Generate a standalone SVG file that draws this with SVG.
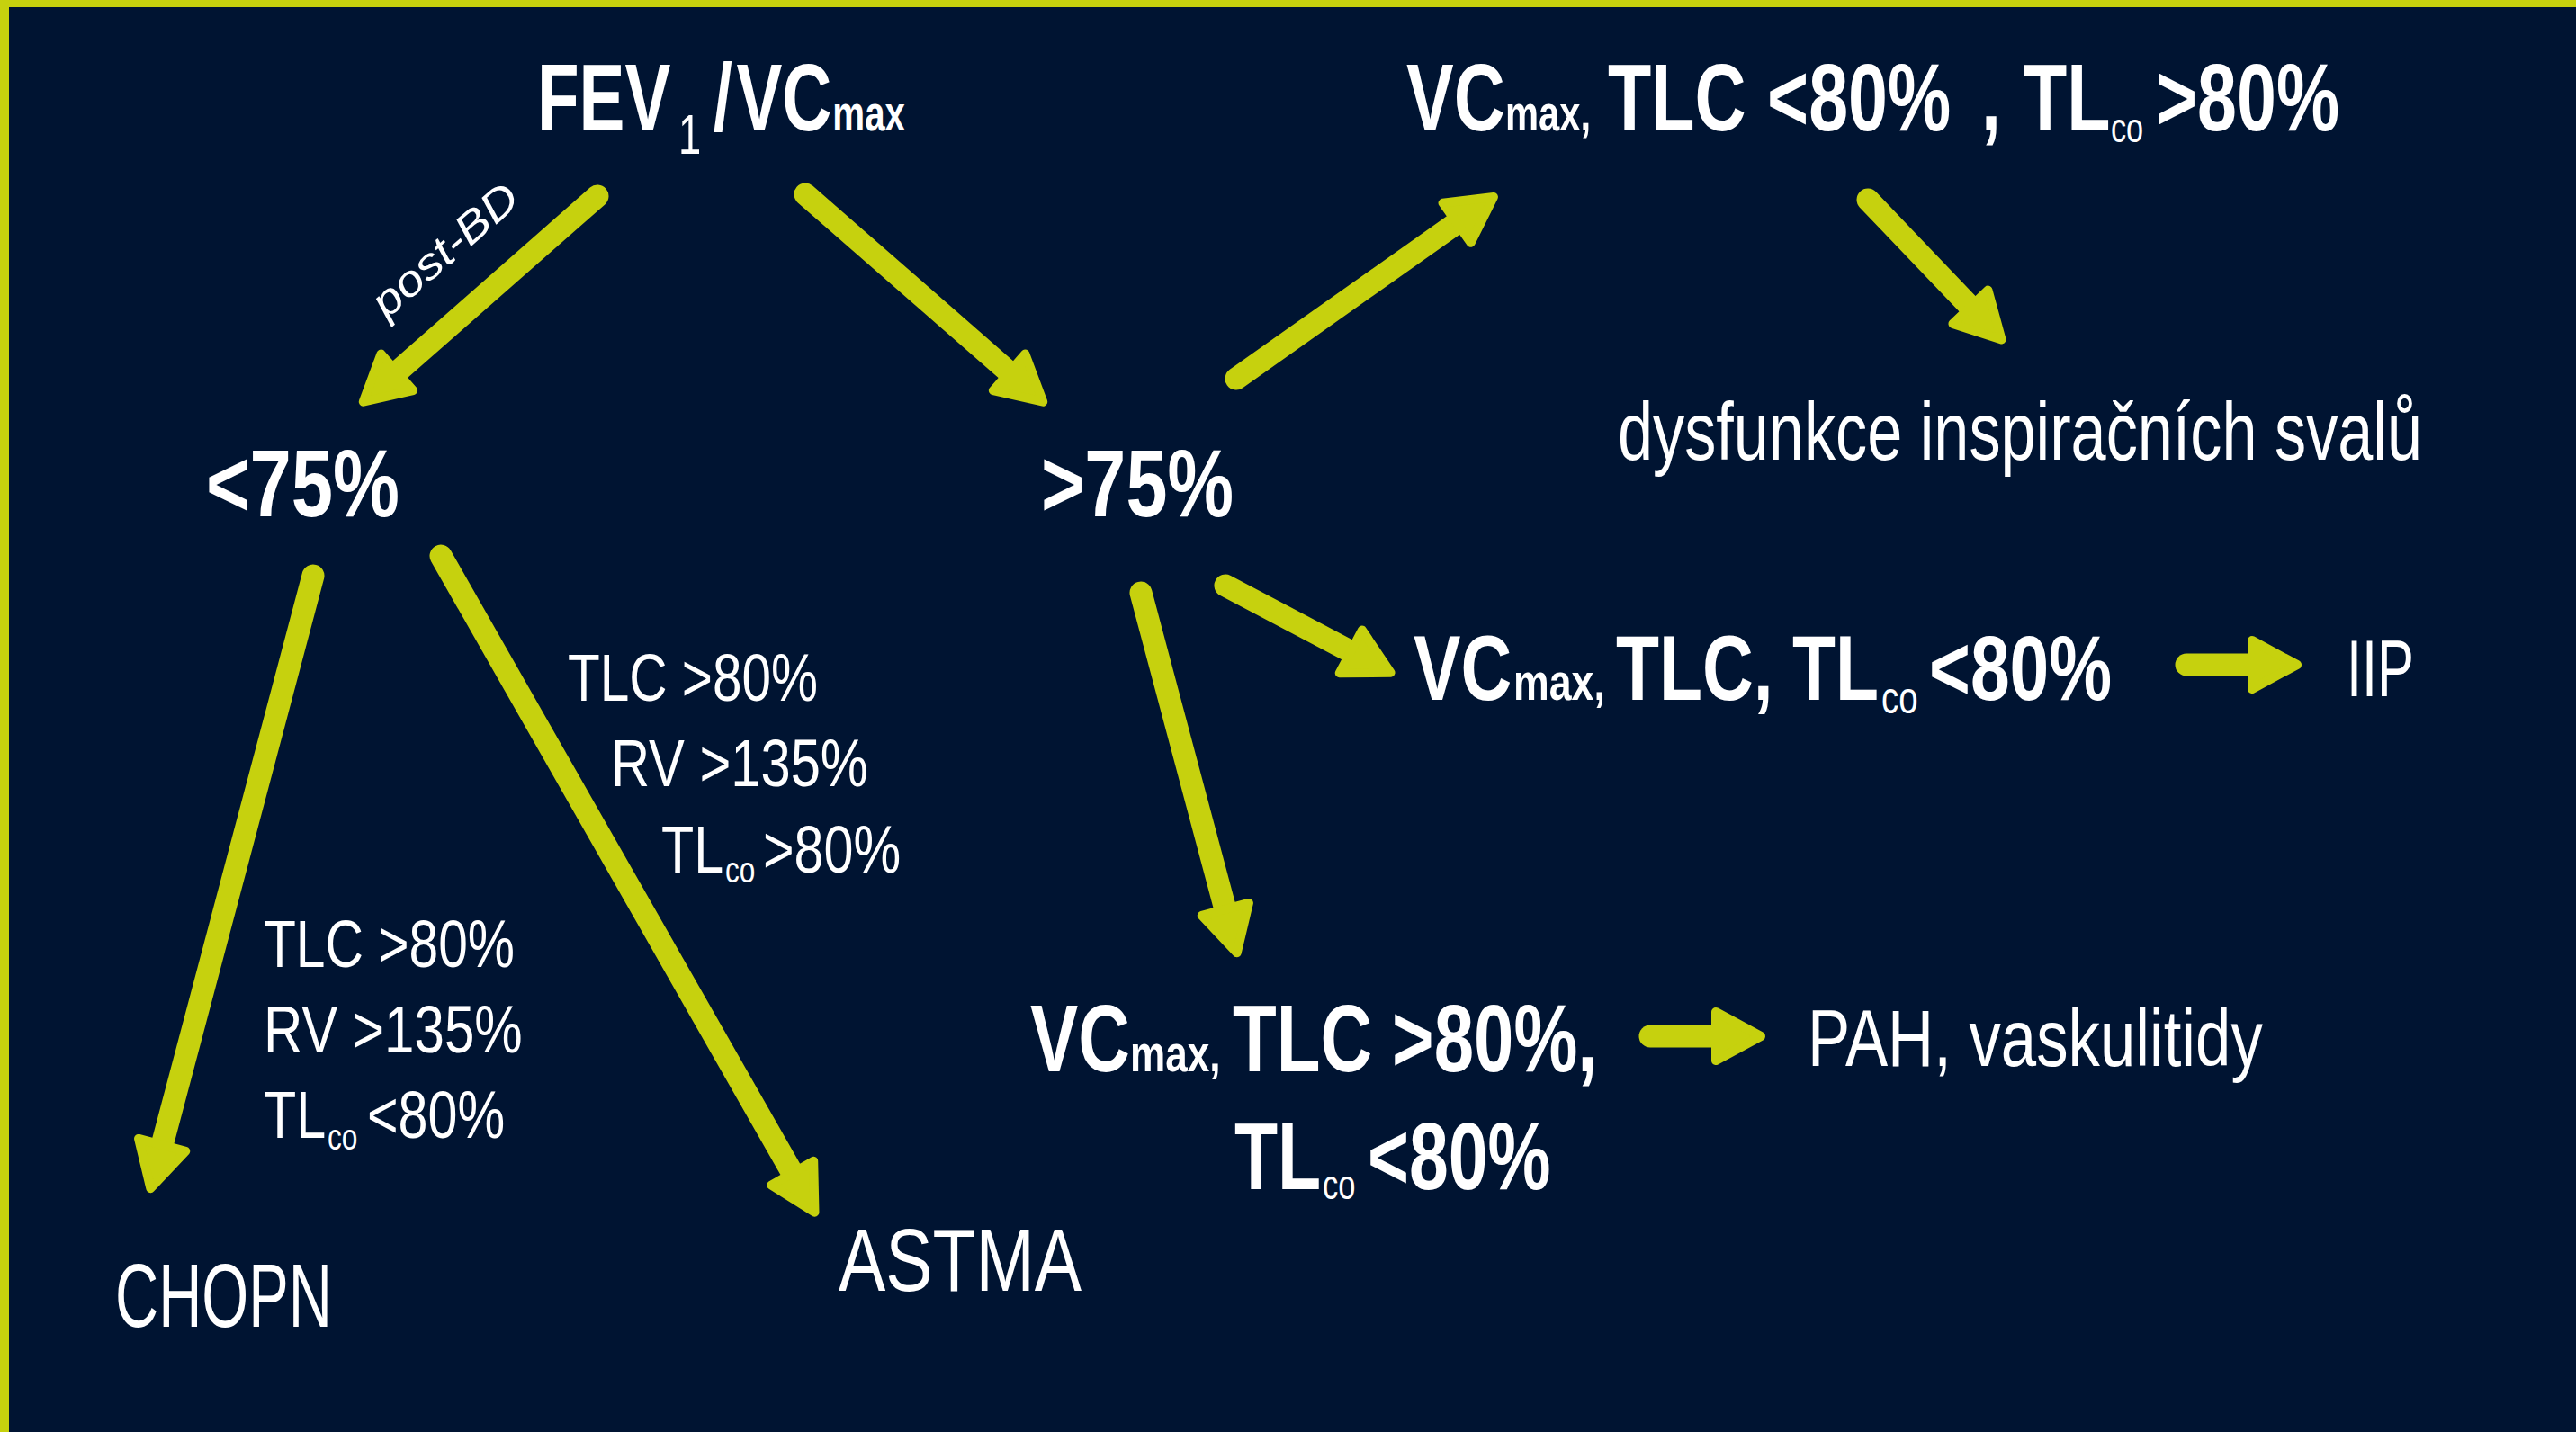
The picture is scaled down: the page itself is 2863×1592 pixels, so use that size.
<svg xmlns="http://www.w3.org/2000/svg" width="2863" height="1592" viewBox="0 0 2863 1592">
  <style>
    text { font-family: "Liberation Sans", Arial, sans-serif; fill: #ffffff; }
    .b { font-weight: bold; }
    .r { font-weight: normal; }
    .arrow { stroke: #c6d10e; stroke-width: 25; stroke-linecap: round; fill: none; }
  </style>
  <defs>
    <marker id="head" markerUnits="userSpaceOnUse" orient="auto" refX="0" refY="0" markerWidth="80" markerHeight="80" viewBox="-15 -40 80 80" overflow="visible">
      <path d="M-6,-27 L44,0 L-6,27 Z" fill="#c6d10e" stroke="#c6d10e" stroke-width="10" stroke-linejoin="round"/>
    </marker>
  </defs>
  <rect x="0" y="0" width="2863" height="1592" fill="#001432"/>
  <rect x="0" y="0" width="2863" height="8" fill="#c6d10e"/>
  <rect x="0" y="0" width="10" height="1592" fill="#c6d10e"/>

  <g id="connectors">
    <line class="arrow" x1="664" y1="218" x2="436.8" y2="417.7" marker-end="url(#head)"/>
    <line class="arrow" x1="895" y1="216" x2="1126.1" y2="417.8" marker-end="url(#head)"/>
    <line class="arrow" x1="1374" y1="421" x2="1624" y2="244.3" marker-end="url(#head)"/>
    <line class="arrow" x1="2076" y1="222" x2="2194.1" y2="345.6" marker-end="url(#head)"/>
    <line class="arrow" x1="348" y1="640" x2="178.6" y2="1278.6" marker-end="url(#head)"/>
    <line class="arrow" x1="490" y1="618" x2="883.7" y2="1309.4" marker-end="url(#head)"/>
    <line class="arrow" x1="1362" y1="651" x2="1506.6" y2="727.2" marker-end="url(#head)"/>
    <line class="arrow" x1="1268" y1="659" x2="1363.4" y2="1016.7" marker-end="url(#head)"/>
    <line class="arrow" x1="2430" y1="739" x2="2509" y2="739" marker-end="url(#head)"/>
    <line class="arrow" x1="1834" y1="1152" x2="1913" y2="1152" marker-end="url(#head)"/>
    <text class="r" font-size="48" font-style="italic" text-anchor="middle" transform="translate(505,290) rotate(-41) scale(1.15,1)">post-BD</text>
  </g>

  <g id="node-fev">
    <text class="b" font-size="106" transform="translate(597,145) scale(0.72,1)"><tspan x="0" y="0">FEV</tspan><tspan class="r" x="218.1" y="26" font-size="63">1</tspan><tspan x="272" y="0">/</tspan><tspan x="307.5" y="0">VC</tspan><tspan x="456" y="0" font-size="56">max</tspan></text>
  </g>

  <g id="node-lt75">
    <text class="b" font-size="106" transform="translate(229,574) scale(0.785,1)">&lt;75%</text>
  </g>

  <g id="node-gt75">
    <text class="b" font-size="106" transform="translate(1157,574) scale(0.781,1)">&gt;75%</text>
  </g>

  <g id="node-restrict-top">
    <text class="b" font-size="106" transform="translate(1563,145) scale(0.745,1)"><tspan x="0" y="0">VC</tspan><tspan x="147.7" y="0" font-size="56">max,</tspan> <tspan x="300.7" y="0">TLC</tspan> <tspan x="538.3" y="0">&lt;80%</tspan> <tspan x="857.7" y="0">,</tspan> <tspan x="920.8" y="0">TL</tspan><tspan class="r" x="1051" y="13" font-size="46">co</tspan> <tspan x="1118.1" y="0">&gt;80%</tspan></text>
  </g>

  <g id="node-dysfunkce">
    <text class="r" font-size="90" transform="translate(1798,511) scale(0.7805,1)">dysfunkce inspiračních svalů</text>
  </g>

  <g id="node-restrict-mid">
    <text class="b" font-size="102" transform="translate(1571,778) scale(0.77,1)"><tspan x="0" y="0">VC</tspan><tspan x="144.2" y="0" font-size="58">max,</tspan> <tspan x="292.2" y="0">TLC,</tspan> <tspan x="546.8" y="0">TL</tspan><tspan class="r" x="675.3" y="15" font-size="50">co</tspan> <tspan x="744.2" y="0">&lt;80%</tspan></text>
  </g>

  <g id="node-iip">
    <text class="r" font-size="89" transform="translate(2608,774) scale(0.689,1)">IIP</text>
  </g>

  <g id="node-vascular">
    <text class="b" font-size="105" transform="translate(1145,1191) scale(0.76,1)"><tspan x="0" y="0">VC</tspan><tspan x="146.1" y="0" font-size="58">max,</tspan> <tspan x="296.1" y="0">TLC</tspan> <tspan x="529" y="0">&gt;80%,</tspan></text>
    <text class="b" font-size="105" transform="translate(1372,1322) scale(0.75,1)"><tspan x="0" y="0">TL</tspan><tspan class="r" x="130.7" y="11" font-size="46">co</tspan> <tspan x="197.3" y="0">&lt;80%</tspan></text>
  </g>

  <g id="node-pah">
    <text class="r" font-size="89" transform="translate(2009,1185) scale(0.795,1)">PAH, vaskulitidy</text>
  </g>

  <g id="label-astma-criteria">
    <text class="r" font-size="75" transform="translate(631,779) scale(0.78,1)">TLC &gt;80%</text>
    <text class="r" font-size="75" transform="translate(679,874) scale(0.796,1)">RV &gt;135%</text>
    <text class="r" font-size="75" transform="translate(735,970) scale(0.79,1)"><tspan x="0" y="0">TL</tspan><tspan x="89.9" y="11" font-size="40">co</tspan> <tspan x="143" y="0">&gt;80%</tspan></text>
  </g>

  <g id="label-chopn-criteria">
    <text class="r" font-size="75" transform="translate(293,1075) scale(0.783,1)">TLC &gt;80%</text>
    <text class="r" font-size="75" transform="translate(293,1170) scale(0.801,1)">RV &gt;135%</text>
    <text class="r" font-size="75" transform="translate(293,1265) scale(0.79,1)"><tspan x="0" y="0">TL</tspan><tspan x="89.9" y="13" font-size="40">co</tspan> <tspan x="145.6" y="0">&lt;80%</tspan></text>
  </g>

  <g id="node-chopn">
    <text class="r" font-size="100" transform="translate(128,1475) scale(0.667,1)">CHOPN</text>
  </g>

  <g id="node-astma">
    <text class="r" font-size="98" transform="translate(932,1435) scale(0.80,1)">ASTMA</text>
  </g>
</svg>
